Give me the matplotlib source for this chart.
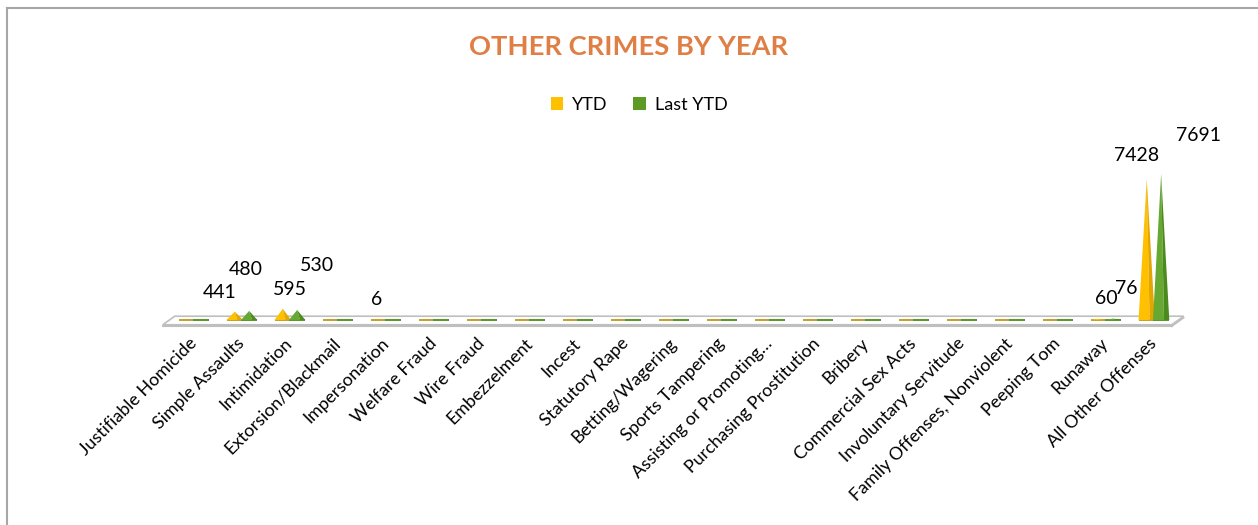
import matplotlib.pyplot as plt
from matplotlib.patches import Polygon, Rectangle
from matplotlib.lines import Line2D
import numpy as np

plt.rcParams['font.family'] = ['Lato', 'DejaVu Sans']

categories = ['Justifiable Homicide', 'Simple Assaults', 'Intimidation',
              'Extorsion/Blackmail', 'Impersonation', 'Welfare Fraud',
              'Wire Fraud', 'Embezzelment', 'Incest', 'Statutory Rape',
              'Betting/Wagering', 'Sports Tampering', 'Assisting or Promoting…',
              'Purchasing Prostitution', 'Bribery', 'Commercial Sex Acts',
              'Involuntary Servitude', 'Family Offenses, Nonviolent',
              'Peeping Tom', 'Runaway', 'All Other Offenses']
ytd = [0, 441, 595, 0, 6, 0, 0, 0, 0, 0, 0, 0, 0, 0, 0, 0, 0, 0, 0, 60, 7428]
last_ytd = [0, 480, 530, 0, 0, 0, 0, 0, 0, 0, 0, 0, 0, 0, 0, 0, 0, 0, 0, 76, 7691]

# label offsets (pixels) the way excel placed them on the 3d chart
ytd_off = {1: (-15, 19), 2: (7, 19), 4: (-2, 20), 19: (8, 20), 20: (-10, 23)}
last_off = {1: (-3, 41), 2: (20, 44), 19: (13, 30), 20: (37, 38)}

YEL, YEL_DARK, YEL_FLAT = '#FFC000', '#E3A600', '#C9A12A'
GRN, GRN_DARK, GRN_FLAT = '#66A832', '#4D8A1E', '#5A9A2A'

fig = plt.figure(figsize=(12.58, 5.25), dpi=100)
ax = fig.add_axes([0.1192, 0.376, 0.8347, 0.340])
ax.set_xlim(-0.917, 20.96)
ax.set_ylim(-400, 9000)
ax.axis('off')

n = len(categories)
x = np.arange(n)

# floor slab
floor = Polygon([(-0.65, -250), (20.37, -250), (20.62, 200), (-0.40, 200)],
                closed=True, facecolor='white', edgecolor='#BFBFBF', lw=1.2, zorder=1)
ax.add_patch(floor)
ax.plot([-0.65, 20.37], [-330, -330], color='#BFBFBF', lw=1.5, zorder=1)
ax.plot([20.37, 20.62], [-330, 120], color='#BFBFBF', lw=1.2, zorder=1)

hw = 0.17


def pyramid(xc, h, light, dark, flat):
    ax.add_patch(Rectangle((xc - hw, -70), 2 * hw, 140, facecolor=flat,
                           edgecolor='none', zorder=2))
    if h <= 0:
        return
    ax.add_patch(Polygon([(xc - hw, 0), (xc, h), (xc + hw * 0.35, 0)],
                         facecolor=light, edgecolor='none', zorder=3))
    ax.add_patch(Polygon([(xc + hw * 0.35, 0), (xc, h), (xc + hw, 0)],
                         facecolor=dark, edgecolor='none', zorder=3))


for i in range(n):
    pyramid(x[i] - 0.15, ytd[i], YEL, YEL_DARK, YEL_FLAT)
    pyramid(x[i] + 0.15, last_ytd[i], GRN, GRN_DARK, GRN_FLAT)

for i in range(n):
    if ytd[i]:
        ax.annotate(str(ytd[i]), (x[i] - 0.15, ytd[i]), xytext=ytd_off.get(i, (-3, 20)),
                    textcoords='offset pixels', ha='center', va='center',
                    fontsize=14, color='black', zorder=5)
    if last_ytd[i]:
        ax.annotate(str(last_ytd[i]), (x[i] + 0.15, last_ytd[i]), xytext=last_off.get(i, (15, 40)),
                    textcoords='offset pixels', ha='center', va='center',
                    fontsize=14, color='black', zorder=5)

for i in range(n):
    ax.text(x[i], -1100, categories[i], rotation=45, rotation_mode='anchor',
            ha='right', va='center', fontsize=12.8, color='black')

fig.text(0.4995, 0.910, 'OTHER CRIMES BY YEAR', ha='center', va='center',
         fontsize=19.7, fontweight='bold', color='#E07F45')

handles = [Rectangle((0, 0), 1, 1, facecolor=YEL), Rectangle((0, 0), 1, 1, facecolor='#5B9A23')]
fig.legend(handles, ['YTD', 'Last YTD'], loc='center', bbox_to_anchor=(0.508, 0.800),
           ncol=2, frameon=False, fontsize=13, handlelength=0.7, handleheight=0.7,
           handletextpad=0.5, columnspacing=1.4)

# chart border (left and top edges visible)
fig.add_artist(Line2D([7 / 1258, 7 / 1258], [0, 1 - 8 / 525], color='#A6A6A6', lw=1.5))
fig.add_artist(Line2D([7 / 1258, 1], [1 - 8 / 525, 1 - 8 / 525], color='#A6A6A6', lw=1.5))

fig.savefig('out.png', dpi=100)
